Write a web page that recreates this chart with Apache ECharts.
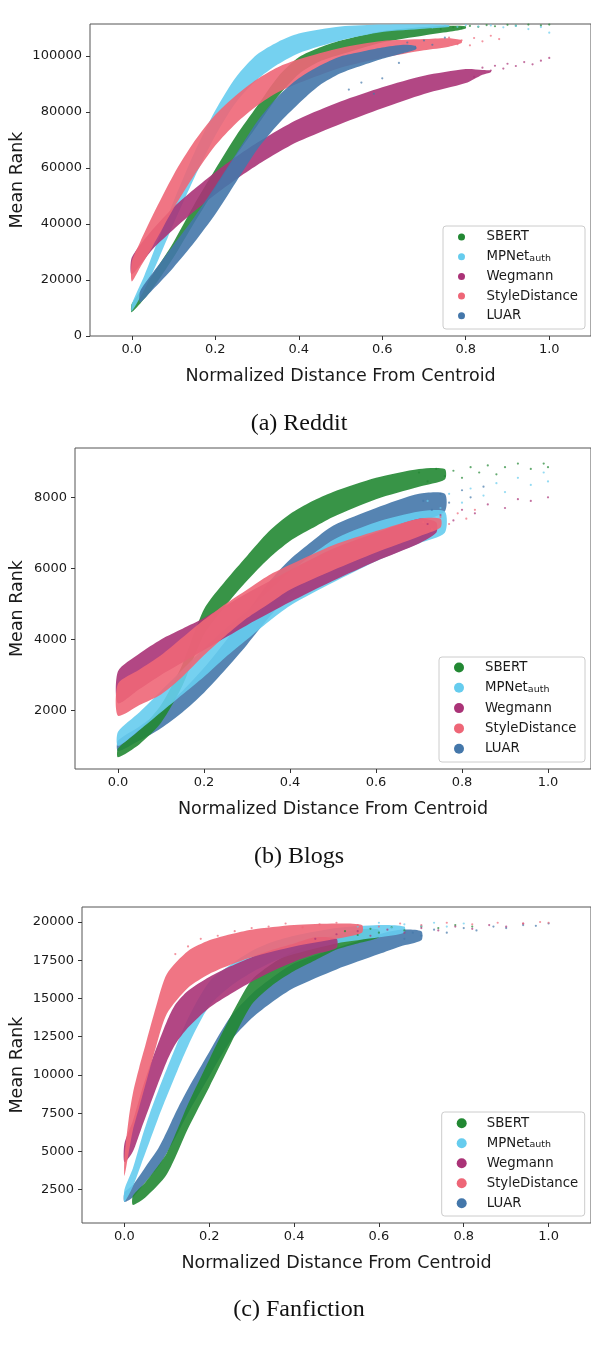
<!DOCTYPE html>
<html><head><meta charset="utf-8">
<script src="https://cdn.jsdelivr.net/npm/echarts@6/dist/echarts.min.js"></script>
<style>html,body{margin:0;padding:0;background:#fff}#c{width:591px;height:1345px}</style>
</head><body><div id="c"></div>
<script>
// ---------- categories / ticks ----------
const seriesNames = ['SBERT', 'MPNet_auth', 'Wegmann', 'StyleDistance', 'LUAR'];
const xTicks = [0, 0.2, 0.4, 0.6, 0.8, 1.0];
const redditYTicks = [0, 20000, 40000, 60000, 80000, 100000];
const blogsYTicks = [2000, 4000, 6000, 8000];
const fanYTicks = [2500, 5000, 7500, 10000, 12500, 15000, 17500, 20000];
const captions = ['(a) Reddit', '(b) Blogs', '(c) Fanfiction'];

// ---------- dense point clouds: [distance, lowest rank, highest rank] ----------
// (a) Reddit
const redditSBERT = [[0.00,8500,11500],[0.05,17000,22000],[0.10,28000,33500],[0.15,40500,47000],[0.20,52500,59500],[0.25,64500,71500],[0.30,75000,82000],[0.35,85500,92500],[0.40,93500,99500],[0.45,98000,103000],[0.50,100500,105500],[0.60,104800,108800],[0.70,107300,110300],[0.76,108600,110800],[0.80,109800,110600]];
const redditMPNet = [[0.00,8800,11300],[0.03,16500,21500],[0.06,26000,33000],[0.10,40000,48000],[0.15,56500,65500],[0.20,71500,80500],[0.25,83500,92500],[0.30,91500,100500],[0.35,97000,105000],[0.40,101000,108000],[0.50,105500,110500],[0.60,108500,111200],[0.70,109700,111300],[0.76,110300,111000]];
const redditWegmann = [[0.00,22000,28000],[0.05,31000,38000],[0.10,38000,46000],[0.15,44500,52500],[0.20,50500,58500],[0.25,56000,64000],[0.30,61000,69000],[0.35,65500,73500],[0.40,69500,77500],[0.50,75700,83700],[0.60,81300,88800],[0.70,86400,92900],[0.80,90300,95300],[0.84,93300,95000],[0.86,94200,94800]];
const redditStyle = [[0.00,19500,26500],[0.02,24500,33500],[0.05,32000,43000],[0.10,45500,57500],[0.15,57500,69500],[0.20,68000,79000],[0.25,76000,86000],[0.30,82200,91700],[0.35,87000,96000],[0.40,90300,98800],[0.50,95800,102800],[0.60,99300,105300],[0.70,102000,106000],[0.76,103300,106300],[0.79,104600,105600]];
const redditLUAR = [[0.02,12000,16000],[0.05,16500,22500],[0.10,24500,32500],[0.15,33500,42500],[0.20,43500,53500],[0.25,55000,65000],[0.30,66500,76500],[0.35,75500,85500],[0.40,83000,92000],[0.45,89500,96500],[0.50,93800,99800],[0.55,96500,101500],[0.60,99000,103000],[0.65,101000,104000],[0.68,102300,103600]];
// (b) Blogs
const blogsSBERT = [[0.00,680,930],[0.05,1050,1450],[0.10,1650,2150],[0.15,2700,3300],[0.20,4150,4850],[0.25,4950,5650],[0.30,5650,6350],[0.35,6270,7030],[0.40,6770,7530],[0.45,7120,7880],[0.50,7450,8150],[0.60,7950,8550],[0.70,8300,8800],[0.76,8500,8800]];
const blogsMPNet = [[0.00,1000,1400],[0.05,1450,1950],[0.10,1950,2550],[0.15,2450,3150],[0.20,2950,3750],[0.25,3500,4300],[0.30,4000,4800],[0.35,4500,5350],[0.40,4950,5900],[0.50,5600,6800],[0.60,6200,7300],[0.70,6700,7600],[0.76,7000,7600]];
const blogsWegmann = [[0.00,2200,3100],[0.05,2600,3600],[0.10,3000,4000],[0.15,3350,4300],[0.20,3700,4600],[0.30,4400,5300],[0.40,5050,5950],[0.50,5650,6550],[0.60,6200,7000],[0.70,6700,7400],[0.74,7000,7300]];
const blogsStyle = [[0.00,1850,2750],[0.05,2150,3150],[0.10,2450,3550],[0.15,2950,4050],[0.20,3550,4550],[0.25,4100,5000],[0.30,4600,5400],[0.35,5000,5800],[0.40,5400,6100],[0.50,5950,6650],[0.60,6450,7050],[0.70,6900,7400],[0.75,7150,7400]];
const blogsLUAR = [[0.00,850,1150],[0.05,1150,1550],[0.10,1500,2000],[0.15,1950,2550],[0.20,2500,3200],[0.25,3150,3950],[0.30,3850,4750],[0.35,4600,5600],[0.40,5250,6250],[0.45,5750,6750],[0.50,6150,7200],[0.60,6800,7700],[0.70,7300,8100],[0.76,7600,8100]];
// (c) Fanfiction
const fanSBERT = [[0.02,1500,2100],[0.05,2000,3000],[0.10,3500,4900],[0.15,6500,8100],[0.20,9200,11000],[0.25,12000,13800],[0.30,14600,16200],[0.35,15900,17300],[0.40,16800,18100],[0.45,17500,18700],[0.50,18200,19200],[0.55,18600,19500],[0.60,19000,19500]];
const fanMPNet = [[0.00,1700,2500],[0.02,2700,3900],[0.04,4200,5800],[0.06,5700,7500],[0.08,7200,9000],[0.10,8600,10400],[0.15,11900,13700],[0.20,14500,16100],[0.25,15800,17200],[0.30,16700,18100],[0.35,17400,18700],[0.40,17900,19100],[0.50,18600,19600],[0.60,19000,19800],[0.66,19300,19700]];
const fanWegmann = [[0.00,4300,5500],[0.02,5000,7000],[0.04,6500,8900],[0.06,8000,10600],[0.08,9500,12100],[0.10,10900,13500],[0.12,12000,14600],[0.15,13100,15500],[0.20,14400,16400],[0.25,15300,17100],[0.30,16100,17700],[0.35,16800,18200],[0.40,17400,18600],[0.45,17900,19000],[0.50,18300,18900]];
const fanStyle = [[0.00,3400,4600],[0.01,4900,7100],[0.02,6400,8800],[0.035,7900,10500],[0.05,9400,12000],[0.075,11900,14500],[0.10,14000,16600],[0.15,15700,18100],[0.20,16600,18800],[0.25,17200,19200],[0.30,17700,19500],[0.40,18400,19800],[0.50,18900,19900],[0.56,19300,19800]];
const fanLUAR = [[0.00,1700,2300],[0.02,2000,2800],[0.05,3000,4000],[0.08,4000,5200],[0.10,4900,6300],[0.12,5900,7500],[0.15,7500,9100],[0.20,9900,11500],[0.25,12200,13800],[0.30,13700,15300],[0.35,14800,16400],[0.40,15700,17300],[0.50,16900,18300],[0.60,17900,19200],[0.65,18400,19500],[0.70,18800,19400]];

// ---------- sparse outlying points: [distance, rank] ----------
const redditSBERTTail = [[0.74,109600],[0.77,110300],[0.79,109900],[0.81,110700],[0.83,110400],[0.85,111000],[0.87,110600],[0.9,111100],[0.92,110800],[0.95,111200],[0.98,110900],[1.0,111200]];
const redditMPNetTail = [[0.72,110200],[0.75,110800],[0.78,110400],[0.8,111000],[0.83,110500],[0.86,110900],[0.89,110200],[0.92,110700],[0.95,109600],[0.98,110300],[1.0,108300]];
const redditWegmannTail = [[0.82,92500],[0.84,95800],[0.86,94800],[0.87,96500],[0.89,95500],[0.9,97200],[0.92,96400],[0.94,97800],[0.96,97000],[0.98,98300],[1.0,99300]];
const redditStyleTail = [[0.76,106500],[0.78,104200],[0.79,105600],[0.81,103800],[0.82,106400],[0.84,105200],[0.86,107200],[0.88,106000]];
const redditLUARTail = [[0.52,88000],[0.55,90500],[0.58,86500],[0.6,92000],[0.64,97500],[0.66,104800],[0.68,102800],[0.7,105500],[0.72,104000],[0.75,106500]];
const blogsSBERTTail = [[0.7,8700],[0.72,8450],[0.74,8800],[0.76,8600],[0.78,8750],[0.8,8550],[0.82,8850],[0.84,8700],[0.86,8900],[0.88,8650],[0.9,8850],[0.93,8950],[0.96,8800],[0.99,8950],[1.0,8850]];
const blogsMPNetTail = [[0.72,7900],[0.75,7700],[0.77,8100],[0.8,7850],[0.82,8250],[0.85,8050],[0.88,8400],[0.9,8150],[0.93,8550],[0.96,8350],[0.99,8700],[1.0,8450]];
const blogsWegmannTail = [[0.72,7250],[0.75,7500],[0.78,7350],[0.8,7650],[0.83,7550],[0.86,7800],[0.9,7700],[0.93,7950],[0.96,7900],[1.0,8000]];
const blogsStyleTail = [[0.71,7300],[0.73,7100],[0.75,7450],[0.77,7250],[0.79,7550],[0.81,7400],[0.83,7650]];
const blogsLUARTail = [[0.71,7900],[0.73,7650],[0.75,8100],[0.77,7850],[0.8,8200],[0.82,8000],[0.85,8300]];
const fanSBERTTail = [[0.52,19400],[0.55,19150],[0.58,19550],[0.6,19300],[0.63,19650],[0.66,19450],[0.7,19700],[0.74,19600],[0.78,19800],[0.82,19700]];
const fanMPNetTail = [[0.55,19700],[0.6,19950],[0.63,19600],[0.66,19850],[0.7,19750],[0.73,19950],[0.76,19700],[0.8,19900]];
const fanWegmannTail = [[0.45,18900],[0.5,19200],[0.55,19400],[0.58,19100],[0.62,19500],[0.66,19300],[0.7,19600],[0.74,19450],[0.78,19700],[0.82,19550],[0.86,19800],[0.9,19700],[0.94,19900]];
const fanStyleTail = [[0.12,17900],[0.15,18400],[0.18,18900],[0.22,19100],[0.26,19400],[0.3,19600],[0.34,19700],[0.38,19900],[0.42,19650],[0.46,19850],[0.5,19950],[0.55,19800],[0.6,19700],[0.65,19900],[0.7,19800],[0.76,19950],[0.82,19850],[0.88,19950],[0.94,19900],[0.98,20000],[1.0,19950]];
const fanLUARTail = [[0.66,18900],[0.68,19300],[0.7,19100],[0.73,19500],[0.76,19300],[0.8,19600],[0.83,19450],[0.87,19700],[0.9,19600],[0.94,19800],[0.97,19750],[1.0,19900]];

// ---------- styling / layout ----------
const COLORS = { 'SBERT': '#228833', 'MPNet_auth': '#66CCEE', 'Wegmann': '#AA3377', 'StyleDistance': '#EE6677', 'LUAR': '#4477AA' };
const FONT = 'DejaVu Sans';
const INK = '#1a1a1a';

const panels = [
  { grid: { left: 90, top: 24, right: 0, height: 312 }, yMin: 0, yMax: 111400, yTicks: redditYTicks, yGap: 64,
    bands: { 'SBERT': redditSBERT, 'MPNet_auth': redditMPNet, 'Wegmann': redditWegmann, 'StyleDistance': redditStyle, 'LUAR': redditLUAR },
    tails: { 'SBERT': redditSBERTTail, 'MPNet_auth': redditMPNetTail, 'Wegmann': redditWegmannTail, 'StyleDistance': redditStyleTail, 'LUAR': redditLUARTail },
    order: ['SBERT', 'MPNet_auth', 'Wegmann', 'StyleDistance', 'LUAR'],
    legend: { left: 458, top: 230.5, itemWidth: 40, itemHeight: 7, itemGap: 6.7 }, frame: [443, 226, 142, 103], capY: 424 },
  { grid: { left: 75, top: 448, right: 0, height: 321 }, yMin: 350, yMax: 9390, yTicks: blogsYTicks, yGap: 49,
    bands: { 'SBERT': blogsSBERT, 'MPNet_auth': blogsMPNet, 'Wegmann': blogsWegmann, 'StyleDistance': blogsStyle, 'LUAR': blogsLUAR },
    tails: { 'SBERT': blogsSBERTTail, 'MPNet_auth': blogsMPNetTail, 'Wegmann': blogsWegmannTail, 'StyleDistance': blogsStyleTail, 'LUAR': blogsLUARTail },
    order: ['LUAR', 'SBERT', 'MPNet_auth', 'Wegmann', 'StyleDistance'],
    legend: { left: 454, top: 661, itemWidth: 42, itemHeight: 10, itemGap: 7.3 }, frame: [439, 657, 146, 105], capY: 857 },
  { grid: { left: 82, top: 907, right: 0, height: 316 }, yMin: 320, yMax: 20980, yTicks: fanYTicks, yGap: 56,
    bands: { 'SBERT': fanSBERT, 'MPNet_auth': fanMPNet, 'Wegmann': fanWegmann, 'StyleDistance': fanStyle, 'LUAR': fanLUAR },
    tails: { 'SBERT': fanSBERTTail, 'MPNet_auth': fanMPNetTail, 'Wegmann': fanWegmannTail, 'StyleDistance': fanStyleTail, 'LUAR': fanLUARTail },
    order: ['LUAR', 'SBERT', 'MPNet_auth', 'Wegmann', 'StyleDistance'],
    legend: { left: 456.7, top: 1116.8, itemWidth: 40, itemHeight: 10, itemGap: 7 }, frame: [441.7, 1112, 143, 104], capY: 1310 }
];

function bandRenderer(arr, color) {
  return function (params, api) {
    if (params.dataIndex !== 0) return null;
    const upper = arr.map(d => api.coord([d[0], d[2]]));
    const lower = arr.map(d => api.coord([d[0], d[1]])).reverse();
    return { type: 'polygon', shape: { points: upper.concat(lower), smooth: 0.25 },
      style: { fill: color, opacity: 0.9 } };
  };
}

const grids = [], xAxes = [], yAxes = [], series = [], legends = [], graphics = [];
panels.forEach((p, i) => {
  grids.push(Object.assign({ show: true, borderColor: '#555', borderWidth: 1, backgroundColor: 'transparent', containLabel: false, outerBoundsMode: 'none' }, p.grid));
  xAxes.push({
    type: 'value', gridIndex: i, min: -0.1, max: 1.1,
    name: 'Normalized Distance From Centroid', nameLocation: 'middle', nameGap: 31, nameMoveOverlap: false,
    nameTextStyle: { fontFamily: FONT, fontSize: 17.5, color: INK },
    axisLine: { show: false, onZero: false }, splitLine: { show: false },
    axisTick: { show: true, length: 4, inside: false, customValues: xTicks, lineStyle: { color: '#333' } },
    axisLabel: { customValues: xTicks, margin: 7, fontFamily: FONT, fontSize: 13, color: INK, formatter: v => v.toFixed(1) }
  });
  yAxes.push({
    type: 'value', gridIndex: i, min: p.yMin, max: p.yMax,
    name: 'Mean Rank', nameLocation: 'middle', nameRotate: 90, nameGap: p.yGap, nameMoveOverlap: false,
    nameTextStyle: { fontFamily: FONT, fontSize: 17.5, color: INK },
    axisLine: { show: false, onZero: false }, splitLine: { show: false },
    axisTick: { show: true, length: 4, inside: false, customValues: p.yTicks, lineStyle: { color: '#333' } },
    axisLabel: { customValues: p.yTicks, margin: 8, fontFamily: FONT, fontSize: 13, color: INK, formatter: v => String(v) }
  });
  p.order.forEach(name => {
    const arr = p.bands[name];
    series.push({
      type: 'custom', name, coordinateSystem: 'cartesian2d', xAxisIndex: i, yAxisIndex: i,
      data: arr, encode: { x: 0, y: [1, 2] }, itemStyle: { color: COLORS[name] },
      renderItem: bandRenderer(arr, COLORS[name]), silent: true, z: 2, animation: false
    });
  });
  p.order.forEach(name => {
    series.push({
      type: 'scatter', name, xAxisIndex: i, yAxisIndex: i, data: p.tails[name],
      symbolSize: 2.2, itemStyle: { color: COLORS[name], opacity: 0.7 }, silent: true, z: 2, animation: false
    });
  });
  legends.push({
    orient: 'vertical', left: p.legend.left, top: p.legend.top, padding: 0,
    itemWidth: p.legend.itemWidth, itemHeight: p.legend.itemHeight, itemGap: p.legend.itemGap,
    icon: 'circle', selectedMode: false, data: seriesNames,
    formatter: n => n === 'MPNet_auth' ? 'MPNet{sub|auth}' : n,
    textStyle: { fontFamily: FONT, fontSize: 13.3, color: INK,
      rich: { sub: { fontFamily: FONT, fontSize: 9.5, color: INK, verticalAlign: 'bottom', lineHeight: 5 } } },
    z: 5
  });
  const f = p.frame;
  graphics.push({ type: 'rect', z: 3, shape: { x: f[0], y: f[1], width: f[2], height: f[3], r: 3 },
    style: { fill: 'rgba(255,255,255,0.85)', stroke: '#cccccc', lineWidth: 1 } });
  graphics.push({ type: 'text', z: 3, x: 299, y: p.capY,
    style: { text: captions[i], font: '24px "Liberation Serif"', fill: '#111', align: 'center', verticalAlign: 'middle' } });
});

const chart = echarts.init(document.getElementById('c'), null, { renderer: 'canvas', width: 591, height: 1345 });
chart.setOption({
  animation: false, backgroundColor: '#fff',
  grid: grids, xAxis: xAxes, yAxis: yAxes, series, legend: legends, graphic: graphics
});
</script></body></html>
